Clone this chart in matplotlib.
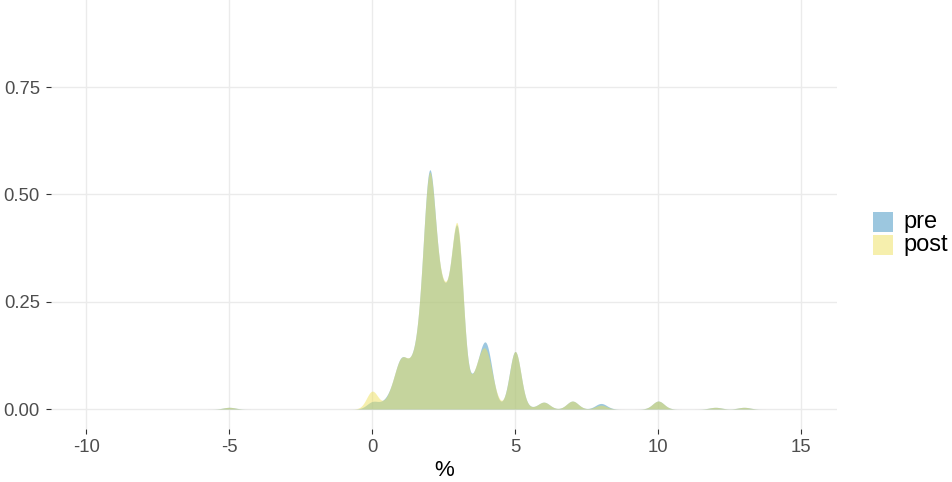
import numpy as np
import matplotlib
matplotlib.use("Agg")
import matplotlib.pyplot as plt
from matplotlib.patches import Rectangle

# ---- data: reported values (%) and their share of responses ----
values = [-5, -0.25, 0, 0.25, 0.5, 0.75, 1, 1.25, 1.5, 1.75, 2, 2.25, 2.5, 2.75,
          3, 3.25, 3.5, 3.75, 4, 4.25, 4.5, 4.75, 5, 5.25, 5.5, 6, 7, 8, 10, 12, 13]
pre_share = [0.0020, 0.0000, 0.0076, 0.0021, 0.0058, 0.0139, 0.0413, 0.0225, 0.0327,
             0.0549, 0.2180, 0.0677, 0.0775, 0.0520, 0.1825, 0.0000, 0.0188, 0.0274,
             0.0602, 0.0059, 0.0000, 0.0024, 0.0660, 0.0000, 0.0014, 0.0080, 0.0093,
             0.0065, 0.0093, 0.0020, 0.0020]
post_share = [0.0020, 0.0000, 0.0207, 0.0000, 0.0047, 0.0155, 0.0395, 0.0245, 0.0303,
              0.0584, 0.2133, 0.0687, 0.0793, 0.0503, 0.1864, 0.0000, 0.0162, 0.0328,
              0.0480, 0.0104, 0.0000, 0.0014, 0.0665, 0.0000, 0.0013, 0.0080, 0.0093,
              0.0045, 0.0093, 0.0020, 0.0020]
series = ["pre", "post"]
x_ticks = [-10, -5, 0, 5, 10, 15]
y_ticks = [0.0, 0.25, 0.50, 0.75]
y_tick_labels = ["0.00", "0.25", "0.50", "0.75"]
x_title = "%"
bandwidth = 0.2

colors = {"pre": "#3A90C1", "post": "#EEE15C"}
alpha = 0.5

plt.rcParams['font.family'] = ['Liberation Sans', 'DejaVu Sans']

def kde(grid, vals, w, bw):
    vals = np.asarray(vals, float)
    w = np.asarray(w, float)
    z = (grid[:, None] - vals[None, :]) / bw
    return (np.exp(-0.5 * z ** 2) / (bw * np.sqrt(2 * np.pi))) @ w

W, H = 952, 482
fig = plt.figure(figsize=(W / 100, H / 100), dpi=100)
left, right, bottom, top = 50.5, 837, 428.5, 0
ax = fig.add_axes([left / W, (H - bottom) / H, (right - left) / W, (bottom - top) / H])

grid = np.linspace(min(values) - 0.8, max(values) + 0.8, 4000)
for name, share in zip(series, [pre_share, post_share]):
    d = kde(grid, values, share, bandwidth)
    ax.fill_between(grid, 0, d, color=colors[name], alpha=alpha, lw=0, zorder=2)

ax.set_xlim(-11.25, 16.25)
ax.set_ylim(-0.0454, 0.9532)
ax.set_xticks(x_ticks)
ax.set_xticklabels([str(t) for t in x_ticks])
ax.set_yticks(y_ticks)
ax.set_yticklabels(y_tick_labels)
for s in ax.spines.values():
    s.set_visible(False)
ax.grid(True, color="#EBEBEB", lw=1.0, zorder=0)
ax.set_axisbelow(True)
ax.tick_params(axis='both', length=3.6, width=0.8, color="#333333",
               labelcolor="#4D4D4D", labelsize=13.3, pad=4)
ax.set_xlabel(x_title, fontsize=16, color="black", labelpad=3)

# legend (keys + labels)
key = 20
key_x = 873
key_tops = [211.7, 235.0]
for name, ktop in zip(series, key_tops):
    fig.add_artist(Rectangle((key_x / W, (H - ktop - key) / H), key / W, key / H,
                             transform=fig.transFigure, facecolor=colors[name],
                             alpha=alpha, lw=0))
    fig.text(903 / W, (H - ktop - key / 2) / H, name, fontsize=17, color="black",
             ha="left", va="center")

fig.savefig("out.png", dpi=100)
